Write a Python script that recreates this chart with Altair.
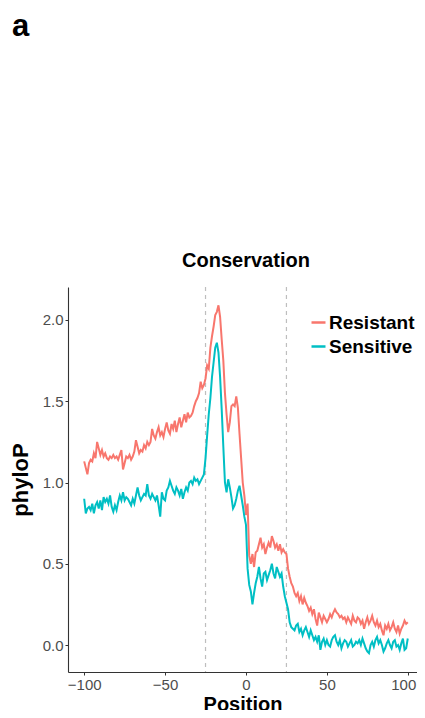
import altair as alt
import pandas as pd

positions = list(range(-100, 101))

resistant = [
    1.13, 1.09, 1.05, 1.12, 1.14, 1.13, 1.18, 1.15, 1.25, 1.21,
    1.17, 1.20, 1.16, 1.18, 1.15, 1.14, 1.16, 1.15, 1.17, 1.15,
    1.16, 1.14, 1.17, 1.20, 1.08, 1.12, 1.16, 1.15, 1.17, 1.14,
    1.16, 1.19, 1.26, 1.22, 1.18, 1.20, 1.19, 1.23, 1.21, 1.25,
    1.23, 1.25, 1.33, 1.29, 1.27, 1.31, 1.34, 1.29, 1.31, 1.28,
    1.33, 1.37, 1.32, 1.30, 1.36, 1.33, 1.38, 1.31, 1.36, 1.40,
    1.34, 1.38, 1.42, 1.37, 1.43, 1.40, 1.41, 1.43, 1.47, 1.50,
    1.52, 1.55, 1.62, 1.58, 1.60, 1.64, 1.72, 1.70, 1.83, 1.90,
    1.96, 2.03, 2.05, 2.09, 2.02, 1.88, 1.75, 1.55, 1.42, 1.31,
    1.37, 1.47, 1.48, 1.47, 1.53, 1.46, 1.30, 1.15, 1.00, 0.92,
    0.80,
    0.87, 0.55, 0.50, 0.56, 0.48, 0.57, 0.58, 0.62, 0.66, 0.60,
    0.62, 0.56, 0.60, 0.63, 0.60, 0.67, 0.64, 0.60, 0.62, 0.58,
    0.62, 0.57, 0.59, 0.57, 0.56, 0.47, 0.42, 0.38, 0.36, 0.32,
    0.30, 0.32, 0.27, 0.30, 0.25, 0.29, 0.26, 0.24, 0.21, 0.23,
    0.19, 0.22, 0.16, 0.12, 0.20, 0.17, 0.14, 0.18, 0.16, 0.14,
    0.16, 0.19, 0.17, 0.20, 0.22, 0.20, 0.19, 0.17, 0.18, 0.16,
    0.17, 0.14, 0.17, 0.15, 0.13, 0.18, 0.15, 0.14, 0.17, 0.16,
    0.13, 0.15, 0.10, 0.14, 0.17, 0.13, 0.15, 0.18, 0.14, 0.12,
    0.15, 0.11, 0.13, 0.09, 0.06, 0.12, 0.10, 0.13, 0.09, 0.11,
    0.14, 0.10, 0.08, 0.12, 0.07, 0.10, 0.12, 0.15, 0.13, 0.14,
]

sensitive = [
    0.90, 0.81, 0.84, 0.85, 0.83, 0.87, 0.81, 0.86, 0.88, 0.84,
    0.89, 0.83, 0.91, 0.88, 0.90, 0.87, 0.92, 0.85, 0.82, 0.86,
    0.83, 0.88, 0.92, 0.89, 0.94, 0.89, 0.91, 0.90, 0.88, 0.86,
    0.90, 0.87, 0.92, 0.97, 0.92, 0.89, 0.91, 0.93, 0.92, 0.99,
    0.92, 0.90, 0.93, 0.91, 0.89, 0.92, 0.86, 0.79, 0.94, 0.90,
    0.89, 0.95, 0.97, 1.01, 0.98, 0.95, 0.93, 0.97, 0.95, 0.92,
    0.96, 0.90, 0.94, 0.97, 0.95, 1.00, 1.01, 0.99, 1.03, 1.01,
    1.02, 0.99, 1.01, 1.03, 1.05, 1.15, 1.29, 1.42, 1.52, 1.65,
    1.74, 1.83, 1.86, 1.80, 1.65, 1.45, 1.22, 1.00, 0.94, 1.02,
    0.97, 0.91, 0.84, 0.86, 0.90, 0.95, 0.98, 0.92, 0.86, 0.79,
    0.74,
    0.47, 0.37, 0.33, 0.25, 0.32, 0.38, 0.42, 0.48, 0.41, 0.36,
    0.44, 0.45, 0.40, 0.43, 0.46, 0.50, 0.44, 0.41, 0.48, 0.45,
    0.42, 0.44, 0.36, 0.30, 0.26, 0.22, 0.14, 0.11, 0.10, 0.09,
    0.12, 0.13, 0.08, 0.10, 0.06, 0.09, 0.11, 0.08, 0.05, 0.09,
    0.06, 0.03, 0.05, 0.02, 0.06, -0.03, 0.02, 0.04, 0.00, 0.03,
    0.00, -0.01, 0.03, 0.05, 0.06, 0.02, 0.00, 0.03, -0.02, 0.01,
    0.03, 0.02, -0.01, 0.01, 0.03, -0.01, 0.00, 0.02, 0.01, 0.03,
    0.00, 0.04, 0.01, -0.02, -0.04, -0.05, 0.00, 0.02, -0.01, 0.03,
    0.05, 0.01, 0.03, 0.00, -0.04, -0.02, 0.01, 0.03, 0.00, -0.02,
    0.02, 0.03, -0.01, 0.00, -0.03, 0.01, 0.04, -0.03, -0.02, 0.04,
]

groups = ["Resistant", "Sensitive"]
colors = ["#F8766D", "#00BFC4"]
boundaries = [-25, 25]
x_ticks = [-100, -50, 0, 50, 100]
y_ticks = [0.0, 0.5, 1.0, 1.5, 2.0]
texts = ["a", "Conservation"]

assert len(resistant) == len(positions) == len(sensitive)

df = pd.concat([
    pd.DataFrame({"Position": positions, "phyloP": resistant, "group": groups[0]}),
    pd.DataFrame({"Position": positions, "phyloP": sensitive, "group": groups[1]}),
])

FONT = "Liberation Sans"

xscale = alt.Scale(domain=[-110, 105.7], nice=False, zero=False)
yscale = alt.Scale(domain=[-0.166, 2.203], nice=False, zero=False)

lines = alt.Chart(df).mark_line(strokeWidth=2, clip=True).encode(
    x=alt.X("Position:Q", scale=xscale,
            axis=alt.Axis(values=x_ticks, title="Position", format="d",
                          titleBaseline="alphabetic", titleY=38,
                          labelAlign=alt.ExprRef(expr="datum.value == 100 ? 'right' : 'center'"),
                          labelOffset=alt.ExprRef(expr="datum.value == 100 ? 8 : 0"))),
    y=alt.Y("phyloP:Q", scale=yscale,
            axis=alt.Axis(values=y_ticks, title="phyloP", format=".1f",
                          titleFontSize=22, titlePadding=10)),
    color=alt.Color("group:N", scale=alt.Scale(domain=groups, range=colors),
                    legend=alt.Legend(title=None, orient="none", legendX=241, legendY=26,
                                      symbolType="stroke", symbolSize=196,
                                      symbolStrokeWidth=2.5, labelFontSize=19,
                                      labelFontWeight="bold", labelColor="#000000",
                                      labelFont=FONT, rowPadding=4, labelOffset=1)),
)

rules = alt.Chart(pd.DataFrame({"b": boundaries})).mark_rule(
    color="#BEBEBE", strokeDash=[4, 4], strokeWidth=1.2
).encode(x=alt.X("b:Q", scale=xscale))

panel = alt.Chart(pd.DataFrame({"t": [texts[0]]})).mark_text(
    align="left", baseline="alphabetic", fontSize=31, fontWeight="bold", font=FONT,
    color="#000000"
).encode(text="t:N", x=alt.value(-56), y=alt.value(-251))

heading = alt.Chart(pd.DataFrame({"t": [texts[1]]})).mark_text(
    align="center", baseline="alphabetic", fontSize=20, fontWeight="bold", font=FONT,
    color="#000000"
).encode(text="t:N", x=alt.value(178), y=alt.value(-20))

chart = alt.layer(rules, lines, panel, heading).properties(
    width=349, height=385,
    autosize=alt.AutoSizeParams(type="none"),
    padding={"left": 60, "top": 279, "right": 0, "bottom": 38},
).configure_view(stroke=None).configure_axis(
    grid=False, domainColor="#333333", domainWidth=1.1, tickColor="#333333",
    tickSize=3, labelColor="#4D4D4D", labelFontSize=15, labelFont=FONT,
    titleFont=FONT, titleFontSize=20, titleFontWeight="bold", titleColor="#000000",
    labelPadding=2,
)

chart.save("out.html", embed_options={"renderer": "svg", "actions": False})
